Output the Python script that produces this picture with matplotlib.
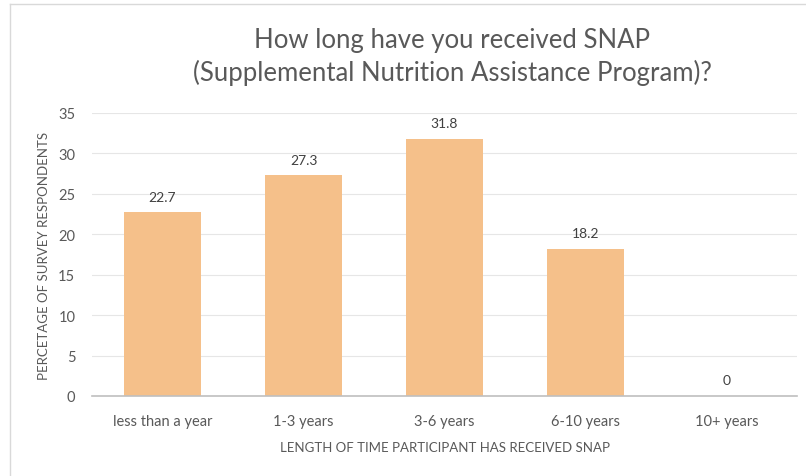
import matplotlib.pyplot as plt
from matplotlib.lines import Line2D

categories = ["less than a year", "1-3 years", "3-6 years", "6-10 years", "10+ years"]
values = [22.7, 27.3, 31.8, 18.2, 0]
labels = ["22.7", "27.3", "31.8", "18.2", "0"]
yticks = [0, 5, 10, 15, 20, 25, 30, 35]

plt.rcParams['font.family'] = ['Lato', 'DejaVu Sans']
grey = '#595959'

fig = plt.figure(figsize=(8.06, 4.77), dpi=100)
ax = fig.add_axes([92 / 806, 1 - 397 / 477, (797 - 92) / 806, (397 - 114) / 477])

x = range(len(categories))
bars = ax.bar(x, values, width=0.55, color='#F5C08A', zorder=2)
for b, lab in zip(bars, labels):
    ax.text(b.get_x() + b.get_width() / 2, b.get_height() + 1.2, lab,
            ha='center', va='bottom', fontsize=10, color='#404040')

ax.set_xlim(-0.5, len(categories) - 0.5)
ax.set_ylim(0, 35)
ax.set_yticks(yticks)
ax.set_xticks(list(x))
ax.set_xticklabels(categories)
ax.tick_params(axis='both', length=0, labelsize=10.5, colors=grey)
ax.tick_params(axis='x', pad=13)
ax.tick_params(axis='y', pad=12)
ax.grid(axis='y', color='#e6e6e6', linewidth=0.8, zorder=0)
for s in ['top', 'right', 'left']:
    ax.spines[s].set_visible(False)
ax.spines['bottom'].set_color('#bfbfbf')
ax.spines['bottom'].set_linewidth(1.2)

ax.set_xlabel("LENGTH OF TIME PARTICIPANT HAS RECEIVED SNAP", fontsize=9.5, color=grey, labelpad=9)
ax.set_ylabel("PERCETAGE OF SURVEY RESPONDENTS", fontsize=9.5, color=grey, labelpad=6)

fig.text(452 / 806, 1 - 57 / 477,
         "How long have you received SNAP\n(Supplemental Nutrition Assistance Program)?",
         ha='center', va='center', fontsize=18.5, color=grey, linespacing=1.3)

# chart frame
fig.add_artist(Line2D([10 / 806, 10 / 806], [0, 1 - 5 / 477], transform=fig.transFigure,
                      color='#d9d9d9', linewidth=1))
fig.add_artist(Line2D([10 / 806, 1], [1 - 5 / 477, 1 - 5 / 477], transform=fig.transFigure,
                      color='#d9d9d9', linewidth=1))

fig.savefig("out.png", dpi=100)
